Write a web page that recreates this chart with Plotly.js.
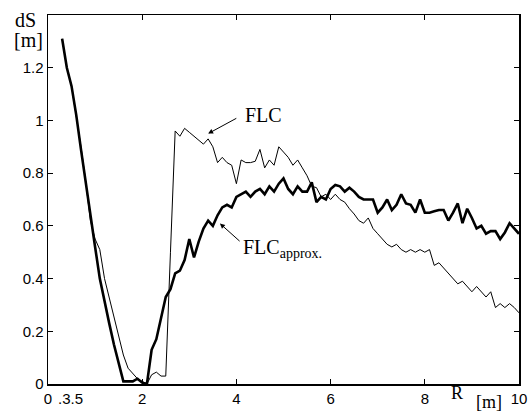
<!DOCTYPE html>
<html><head><meta charset="utf-8">
<script src="https://cdn.plot.ly/plotly-3.0.1.min.js"></script>
<style>html,body{margin:0;padding:0;background:#fff}</style>
</head><body><div id="plot" style="width:528px;height:414px"></div>
<script>
const R = [0.3,0.4,0.5,0.6,0.7,0.8,0.9,1.0,1.1,1.2,1.3,1.4,1.5,1.6,1.7,1.8,1.9,2.0,2.1,2.2,2.3,2.4,2.5,2.6,2.7,2.8,2.9,3.0,3.1,3.2,3.3,3.4,3.5,3.6,3.7,3.8,3.9,4.0,4.1,4.2,4.3,4.4,4.5,4.6,4.7,4.8,4.9,5.0,5.1,5.2,5.3,5.4,5.5,5.6,5.7,5.8,5.9,6.0,6.1,6.2,6.3,6.4,6.5,6.6,6.7,6.8,6.9,7.0,7.1,7.2,7.3,7.4,7.5,7.6,7.7,7.8,7.9,8.0,8.1,8.2,8.3,8.4,8.5,8.6,8.7,8.8,8.9,9.0,9.1,9.2,9.3,9.4,9.5,9.6,9.7,9.8,9.9,10.0];
const flc = [1.31,1.20,1.13,1.02,0.90,0.77,0.62,0.55,0.51,0.40,0.33,0.26,0.18,0.11,0.06,0.04,0.02,0.01,0.0,0.035,0.045,0.03,0.03,0.5,0.96,0.94,0.97,0.955,0.94,0.925,0.91,0.93,0.90,0.84,0.86,0.84,0.83,0.76,0.85,0.84,0.84,0.845,0.89,0.82,0.85,0.83,0.90,0.88,0.86,0.83,0.85,0.82,0.79,0.75,0.745,0.71,0.72,0.70,0.72,0.70,0.69,0.665,0.645,0.62,0.61,0.63,0.59,0.57,0.55,0.53,0.52,0.53,0.51,0.50,0.51,0.50,0.51,0.50,0.51,0.45,0.46,0.44,0.42,0.40,0.38,0.39,0.37,0.35,0.37,0.35,0.33,0.35,0.29,0.305,0.29,0.305,0.29,0.27];
const flcApprox = [1.31,1.20,1.13,1.02,0.89,0.76,0.64,0.52,0.40,0.31,0.23,0.15,0.08,0.01,0.01,0.01,0.02,0.005,0.0,0.13,0.17,0.25,0.33,0.36,0.42,0.43,0.47,0.55,0.48,0.54,0.59,0.62,0.60,0.64,0.67,0.68,0.67,0.71,0.72,0.73,0.71,0.73,0.74,0.72,0.75,0.73,0.76,0.78,0.74,0.72,0.75,0.73,0.73,0.765,0.69,0.71,0.70,0.74,0.755,0.75,0.73,0.745,0.73,0.71,0.70,0.70,0.70,0.65,0.67,0.70,0.66,0.68,0.72,0.685,0.68,0.65,0.70,0.65,0.65,0.655,0.66,0.66,0.62,0.65,0.685,0.61,0.665,0.63,0.59,0.60,0.57,0.58,0.58,0.55,0.575,0.61,0.59,0.57];
const xTickVals = [0,2,4,6,8,10];
const xTickText = ["0","2","4","6","8","10"];
const yTickVals = [0,0.2,0.4,0.6,0.8,1,1.2];
const yTickText = ["0","0.2","0.4","0.6","0.8","1","1.2"];

const serif = "Liberation Serif, Times New Roman, serif";
const sans = "Liberation Sans, Arial, sans-serif";

const traces = [
  {x: R, y: flc, mode: 'lines', line: {color: '#000', width: 1}, name: 'FLC'},
  {x: R, y: flcApprox, mode: 'lines', line: {color: '#000', width: 2.6}, name: 'FLC approx.'}
];

const axBase = {showgrid: false, zeroline: false, showline: true, linecolor: '#000', linewidth: 1.5,
  mirror: 'allticks', ticks: 'inside', ticklen: 5, tickwidth: 1, tickcolor: '#000',
  tickfont: {family: sans, size: 15, color: '#000'}, tickangle: 0};

const layout = {
  width: 528, height: 414,
  margin: {l: 48, r: 9, t: 15, b: 30},
  paper_bgcolor: '#fff', plot_bgcolor: '#fff',
  showlegend: false,
  xaxis: Object.assign({}, axBase, {range: [0, 10], tickmode: 'array', tickvals: xTickVals, ticktext: xTickText}),
  yaxis: Object.assign({}, axBase, {range: [0, 1.4], tickmode: 'array', tickvals: yTickVals, ticktext: yTickText}),
  annotations: [
    {xref: 'x', yref: 'y', x: 3.40, y: 0.95, axref: 'x', ayref: 'y', ax: 4.03, ay: 1.011, text: '', showarrow: true, arrowhead: 2, arrowsize: 1, arrowwidth: 1, arrowcolor: '#000'},
    {xref: 'x', yref: 'y', x: 3.65, y: 0.609, axref: 'x', ayref: 'y', ax: 4.10, ay: 0.537, text: '', showarrow: true, arrowhead: 2, arrowsize: 1, arrowwidth: 1, arrowcolor: '#000'},
    {xref: 'x', yref: 'y', x: 4.15, y: 1.019, text: 'FLC', showarrow: false, xanchor: 'left', yanchor: 'middle', font: {family: serif, size: 20, color: '#000'}},
    {xref: 'x', yref: 'y', x: 4.09, y: 0.515, text: 'FLC<sub>approx.</sub>', showarrow: false, xanchor: 'left', yanchor: 'middle', font: {family: serif, size: 20, color: '#000'}},
    {xref: 'paper', yref: 'paper', x: -0.047, y: 0.986, text: 'dS', showarrow: false, xanchor: 'center', yanchor: 'middle', font: {family: serif, size: 20, color: '#000'}},
    {xref: 'paper', yref: 'paper', x: -0.042, y: 0.932, text: '[m]', showarrow: false, xanchor: 'center', yanchor: 'middle', font: {family: serif, size: 20, color: '#000'}},
    {xref: 'paper', yref: 'paper', x: 0.868, y: -0.024, text: 'R', showarrow: false, xanchor: 'center', yanchor: 'middle', font: {family: serif, size: 18, color: '#000'}},
    {xref: 'paper', yref: 'paper', x: 0.936, y: -0.049, text: '[m]', showarrow: false, xanchor: 'center', yanchor: 'middle', font: {family: serif, size: 18, color: '#000'}},
    {xref: 'x', yref: 'paper', x: 0.47, y: -0.038, text: '.3.5', showarrow: false, xanchor: 'center', yanchor: 'middle', font: {family: sans, size: 15, color: '#000'}}
  ]
};

Plotly.newPlot('plot', traces, layout, {displayModeBar: false, staticPlot: true});
</script>
</body></html>
